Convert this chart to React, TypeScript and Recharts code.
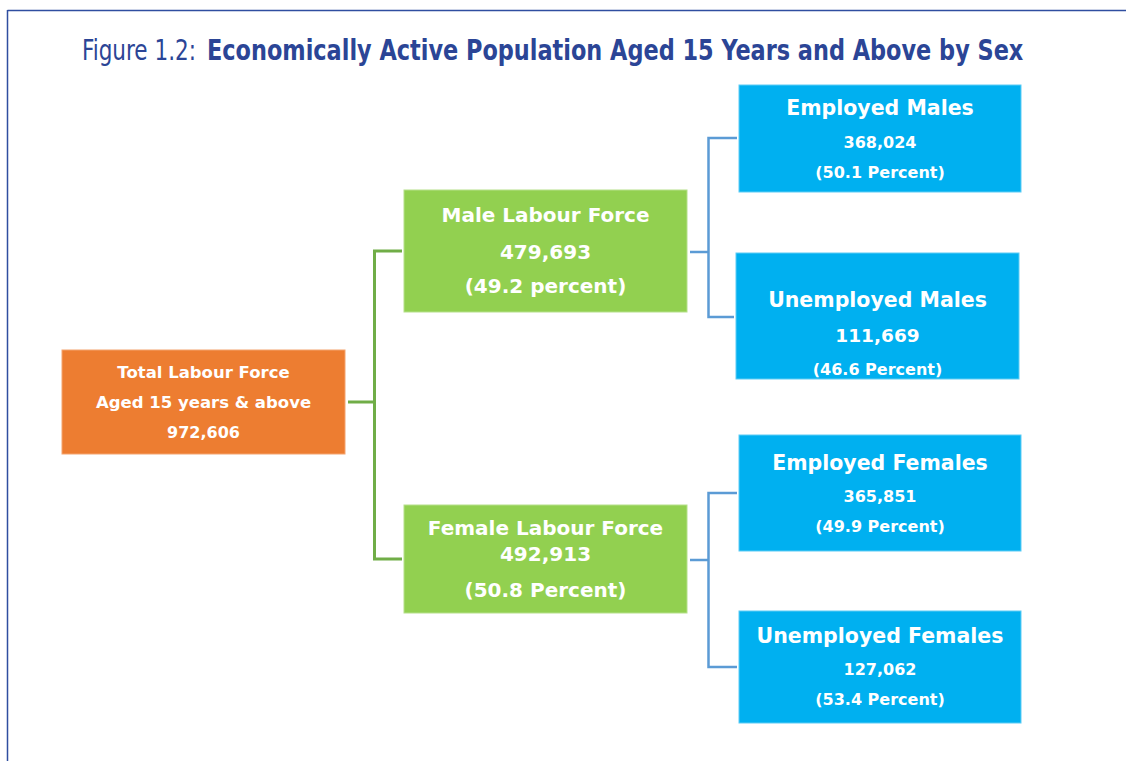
import React, { useLayoutEffect, useRef, useState } from 'react';
import { ComposedChart, XAxis, YAxis, Scatter, Customized } from 'recharts';

// ---------- DATA ----------
const TITLE_PREFIX = 'Figure 1.2:';
const TITLE_MAIN = 'Economically Active Population Aged 15 Years and Above by Sex';

const nodeNames = [
  'Total Labour Force',
  'Male Labour Force',
  'Female Labour Force',
  'Employed Males',
  'Unemployed Males',
  'Employed Females',
  'Unemployed Females',
];
const nodeSubtitles = ['Aged 15 years & above', '', '', '', '', '', ''];
const nodeCounts = [972606, 479693, 492913, 368024, 111669, 365851, 127062];
const nodePercents: (number | null)[] = [null, 49.2, 50.8, 50.1, 46.6, 49.9, 53.4];
const percentWords = ['', 'percent', 'Percent', 'Percent', 'Percent', 'Percent', 'Percent'];
// parent index of each node (-1 = root)
const nodeParents = [-1, 0, 0, 1, 1, 2, 2];

// ---------- LAYOUT (diagram units, axis domain = canvas size) ----------
const W = 1126;
const H = 761;

const boxes = [
  { x0: 62, y0: 350, x1: 345, y1: 454, fill: '#ED7D31', edge: '#F4A46E' },
  { x0: 404, y0: 190, x1: 687, y1: 312, fill: '#92D050', edge: '#B5E08A' },
  { x0: 404, y0: 505, x1: 687, y1: 613, fill: '#92D050', edge: '#B5E08A' },
  { x0: 739, y0: 85, x1: 1021, y1: 192, fill: '#00B0F0', edge: '#5CCCF5' },
  { x0: 736, y0: 253, x1: 1019, y1: 379, fill: '#00B0F0', edge: '#5CCCF5' },
  { x0: 739, y0: 435, x1: 1021, y1: 551, fill: '#00B0F0', edge: '#5CCCF5' },
  { x0: 739, y0: 611, x1: 1021, y1: 723, fill: '#00B0F0', edge: '#5CCCF5' },
];

// line centres (y) and font sizes for: name, subtitle/count, count/percent
const lineLayout = [
  [{ y: 372, s: 16.5 }, { y: 402, s: 16.5 }, { y: 432, s: 16 }],
  [{ y: 215, s: 20 }, { y: 252, s: 20 }, { y: 286, s: 20 }],
  [{ y: 528, s: 20 }, { y: 554, s: 20 }, { y: 590, s: 20 }],
  [{ y: 108, s: 20.5 }, { y: 142, s: 16 }, { y: 172, s: 16 }],
  [{ y: 300, s: 20.5 }, { y: 335, s: 18.5 }, { y: 369, s: 16 }],
  [{ y: 463, s: 20.5 }, { y: 496, s: 16 }, { y: 526, s: 16 }],
  [{ y: 636, s: 20.5 }, { y: 669, s: 16 }, { y: 699, s: 16 }],
];

// y where each node's connector meets it
const joinY = [402, 251, 559, 138, 317, 493, 667];
const levelX = [374.5, 708.5]; // x of the vertical bracket for children of level 0 / 1
const connectorColors = ['#70AD47', '#5B9BD5'];
const connectorWidths = [3, 2.5];

const fmt = (n: number) => n.toLocaleString('en-US');

const nodeTexts = nodeNames.map((name, i) => {
  const lines: string[] = [name];
  if (nodeSubtitles[i]) lines.push(nodeSubtitles[i]);
  lines.push(fmt(nodeCounts[i]));
  if (nodePercents[i] !== null) lines.push(`(${nodePercents[i]!.toFixed(1)} ${percentWords[i]})`);
  return lines;
});

const nodeData = boxes.map((b, i) => ({
  x: (b.x0 + b.x1) / 2,
  y: (b.y0 + b.y1) / 2,
  idx: i,
}));

// Build connectors: for each parent with children -> stub + bracket
type Pt = { x: number; y: number };
const connectors: { pts: Pt[]; color: string; width: number }[] = [];
[0, 1, 2].forEach((p) => {
  const kids = nodeParents.map((par, i) => (par === p ? i : -1)).filter((i) => i >= 0);
  if (!kids.length) return;
  const level = p === 0 ? 0 : 1;
  const vx = levelX[level];
  const pb = boxes[p];
  const py = p === 0 ? joinY[0] : joinY[p] + 1;
  const color = connectorColors[level];
  const width = connectorWidths[level];
  connectors.push({ pts: [{ x: pb.x1 + 3, y: py }, { x: vx, y: py }], color, width });
  const a = boxes[kids[0]];
  const b = boxes[kids[kids.length - 1]];
  const y0 = joinY[kids[0]];
  const y1 = joinY[kids[kids.length - 1]];
  connectors.push({
    pts: [
      { x: a.x0 - 2, y: y0 },
      { x: vx, y: y0 },
      { x: vx, y: y1 },
      { x: b.x0 - 2, y: y1 },
    ],
    color,
    width,
  });
});

const BOX_FONT = '"DejaVu Sans", Verdana, sans-serif';

const NodeShape = (props: any) => {
  const { cx, cy, payload } = props;
  const i = payload.idx;
  const b = boxes[i];
  const xc = (b.x0 + b.x1) / 2;
  const yc = (b.y0 + b.y1) / 2;
  const left = cx - (xc - b.x0);
  const top = cy - (yc - b.y0);
  const lines = nodeTexts[i];
  return (
    <g>
      <rect
        x={left}
        y={top}
        width={b.x1 - b.x0}
        height={b.y1 - b.y0}
        fill={b.fill}
        stroke={b.edge}
        strokeWidth={1}
      />
      {lines.map((t, j) => (
        <text
          key={j}
          x={cx}
          y={cy + (lineLayout[i][j].y - yc)}
          textAnchor="middle"
          dominantBaseline="central"
          fill="#FFFFFF"
          fontFamily={BOX_FONT}
          fontWeight={700}
          fontSize={lineLayout[i][j].s}
        >
          {t}
        </text>
      ))}
    </g>
  );
};

const Empty = () => <g />;

const TITLE_FONT = '"Liberation Sans Narrow", "DejaVu Sans Condensed", sans-serif';

// Text that is horizontally scaled to occupy a target width (condensed look)
const FitText = (props: { x: number; y: number; target: number; weight: number; text: string }) => {
  const ref = useRef<SVGTextElement>(null);
  const [sx, setSx] = useState(1);
  useLayoutEffect(() => {
    if (ref.current) {
      const w = ref.current.getBBox().width;
      if (w > 0) setSx(props.target / w);
    }
  }, [props.target, props.text]);
  return (
    <text
      ref={ref}
      x={0}
      y={0}
      transform={`translate(${props.x},${props.y}) scale(${sx},1)`}
      fontFamily={TITLE_FONT}
      fontSize={29}
      fontWeight={props.weight}
      fill="#2B4596"
    >
      {props.text}
    </text>
  );
};

const Frame = () => (
  <g>
    <line x1={7.5} y1={10.5} x2={W} y2={10.5} stroke="#2F4EA0" strokeWidth={1.5} />
    <line x1={7.5} y1={10} x2={7.5} y2={H} stroke="#2F4EA0" strokeWidth={1.5} />
    <FitText x={82} y={60} target={114} weight={400} text={TITLE_PREFIX} />
    <FitText x={207} y={60} target={817} weight={700} text={TITLE_MAIN} />
  </g>
);

export default function App() {
  return (
    <div style={{ position: 'absolute', left: 0, top: 0, width: W, height: H, background: '#FFFFFF' }}>
      <ComposedChart width={W} height={H} margin={{ top: 0, right: 0, bottom: 0, left: 0 }}>
        <XAxis type="number" dataKey="x" domain={[0, W]} hide allowDataOverflow />
        <YAxis type="number" dataKey="y" domain={[0, H]} reversed hide allowDataOverflow />
        <Customized component={<Frame />} />
        {connectors.map((c, k) => (
          <Scatter
            key={`c${k}`}
            data={c.pts}
            line={{ stroke: c.color, strokeWidth: c.width }}
            lineType="joint"
            shape={Empty}
            isAnimationActive={false}
          />
        ))}
        <Scatter data={nodeData} shape={NodeShape} isAnimationActive={false} />
      </ComposedChart>
    </div>
  );
}
